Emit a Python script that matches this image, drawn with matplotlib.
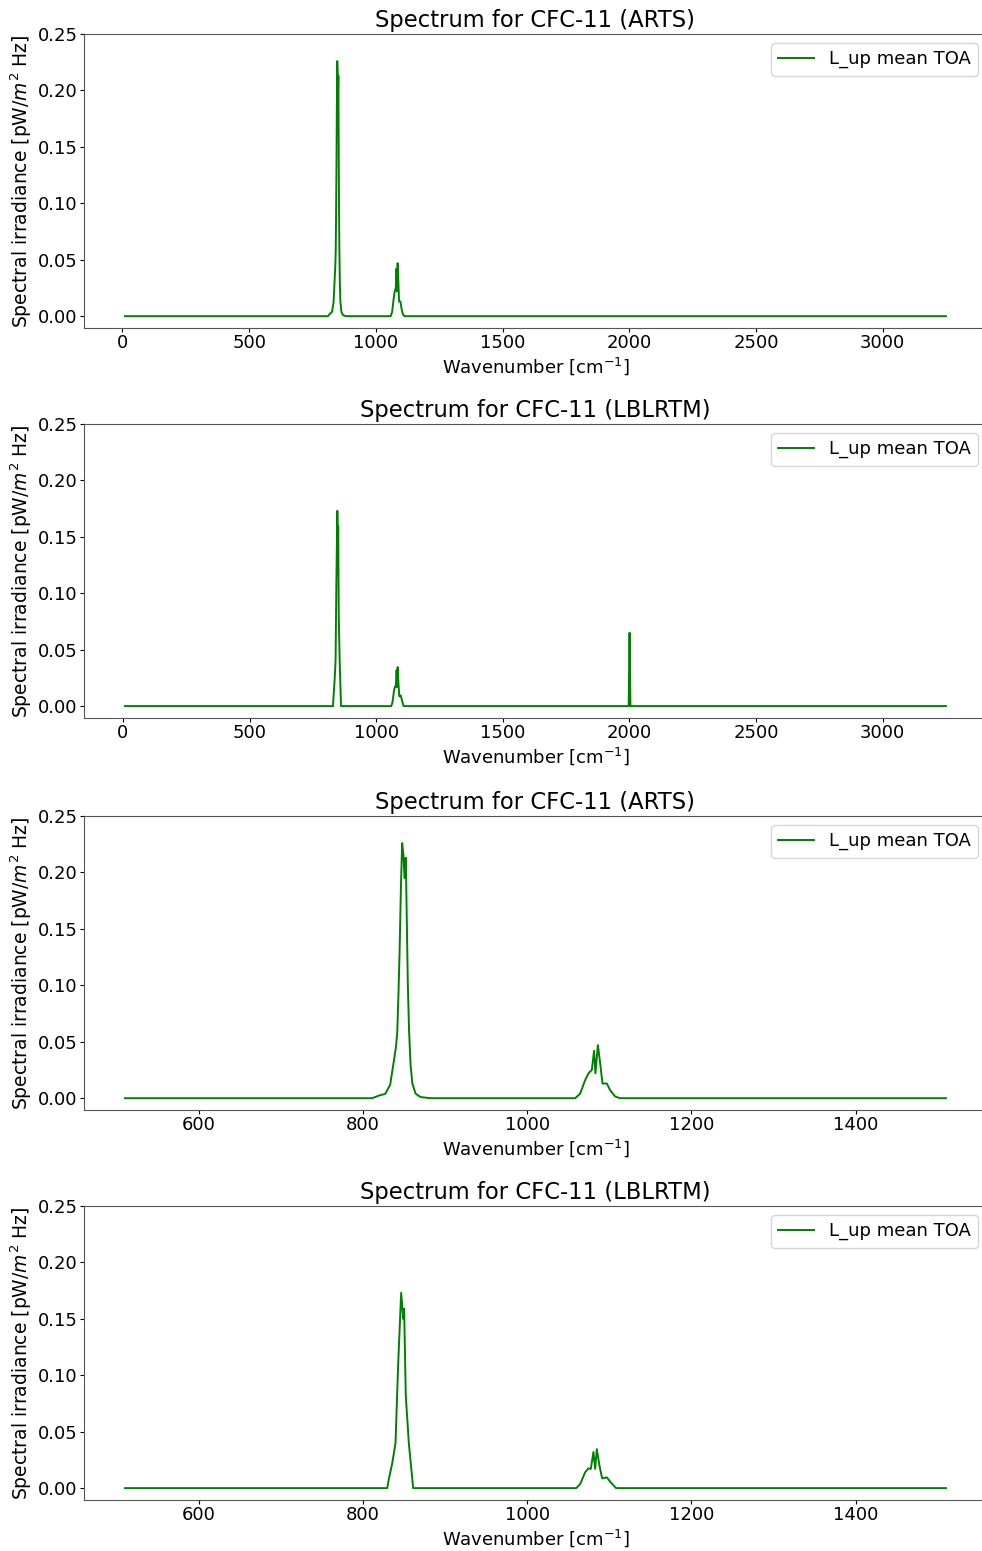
import numpy as np
import matplotlib
matplotlib.use('Agg')
import matplotlib.pyplot as plt

# spectrum (wavenumber in cm-1, irradiance in pW/m2 Hz)
arts_wn = [10, 510, 811, 820, 827, 833, 837.5, 840, 841.6, 843, 844.4, 846.2, 847.6, 849.2,
           850.5, 852, 853.2, 854.5, 856, 857.8, 860, 864, 870, 882, 1058.4, 1064.4, 1070.5,
           1074.5, 1078.6, 1081.4, 1083, 1086, 1088.8, 1091.6, 1096.9, 1101, 1107, 1113,
           1510, 3250]
arts_val = [0, 0, 0, 0.0025, 0.0038, 0.012, 0.033, 0.045, 0.058, 0.09, 0.128, 0.19, 0.226,
            0.215, 0.195, 0.213, 0.16, 0.101, 0.06, 0.030, 0.013, 0.004, 0.001, 0, 0, 0.004,
            0.016, 0.022, 0.025, 0.042, 0.022, 0.047, 0.031, 0.013, 0.013, 0.007, 0.0015, 0,
            0, 0]

lbl_wn = [8, 510, 829.4, 831.4, 835.5, 839.5, 842.8, 846.4, 848.9, 850, 852, 855.7, 861,
          1059.6, 1064.4, 1070.5, 1074.5, 1077.4, 1080.6, 1082.7, 1084.7, 1087.9, 1091.2,
          1096.9, 1101.8, 1108.2, 1510, 1997, 2000.5, 2004, 3250]
lbl_val = [0, 0, 0, 0.0082, 0.022, 0.040, 0.111, 0.173, 0.150, 0.159, 0.082, 0.040, 0,
           0, 0.0035, 0.014, 0.0175, 0.017, 0.032, 0.017, 0.0345, 0.020, 0.0086,
           0.0095, 0.005, 0, 0, 0, 0.065, 0, 0]

titles = ['Spectrum for CFC-11 (ARTS)', 'Spectrum for CFC-11 (LBLRTM)',
          'Spectrum for CFC-11 (ARTS)', 'Spectrum for CFC-11 (LBLRTM)']
zoom_range = (510, 1510)

plt.rcParams['font.size'] = 13

fig = plt.figure(figsize=(9.82, 15.51), dpi=100)
bottoms = [0.7885, 0.5371, 0.2843, 0.0329]

series = [(arts_wn, arts_val), (lbl_wn, lbl_val), (arts_wn, arts_val), (lbl_wn, lbl_val)]

for k in range(4):
    ax = fig.add_axes([0.0855, bottoms[k], 0.9196, 0.1896])
    wn = np.array(series[k][0])
    val = np.array(series[k][1])
    if k >= 2:
        keep = (wn >= zoom_range[0]) & (wn <= zoom_range[1])
        wn, val = wn[keep], val[keep]
    ax.plot(wn, val, color='green', lw=1.4, label='L_up mean TOA')
    ax.set_ylim(-0.0105, 0.25)
    ax.set_yticks([0, 0.05, 0.10, 0.15, 0.20, 0.25])
    ax.tick_params(length=3, pad=1.5)
    ax.set_title(titles[k], fontsize=16.3, pad=5)
    ax.set_xlabel('Wavenumber [cm$^{-1}$]', labelpad=2)
    ax.set_ylabel('Spectral irradiance [pW/$m^2$ Hz]', fontsize=13.5, labelpad=3)
    ax.legend(loc='upper right')
    for s in ax.spines.values():
        s.set_color('#555555')

fig.savefig('out.png', dpi=100)
